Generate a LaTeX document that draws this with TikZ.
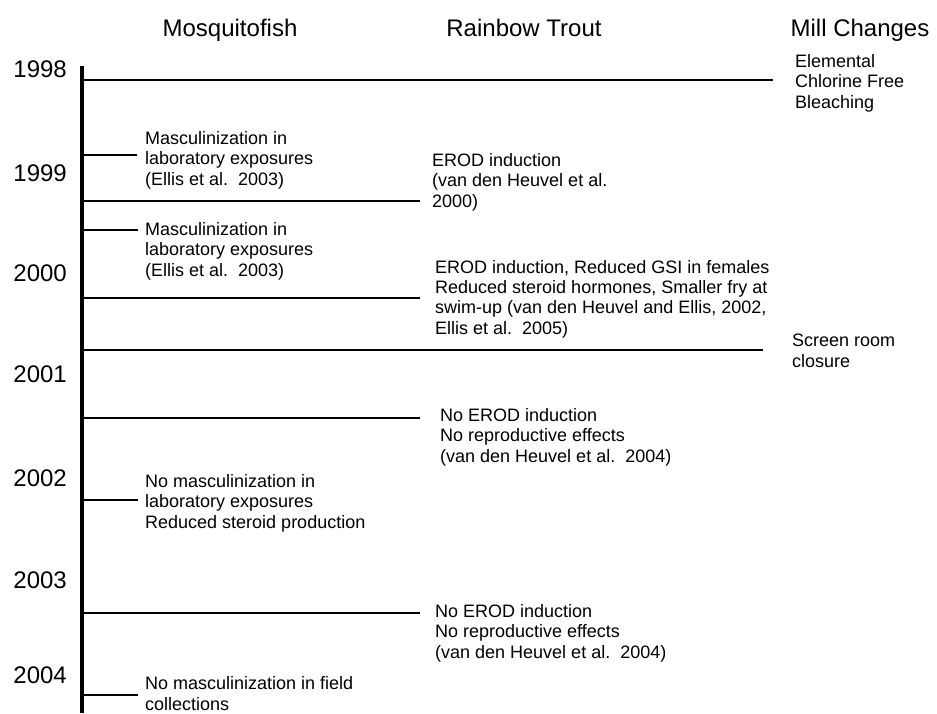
\documentclass[tikz,border=0pt]{standalone}
\usepackage{fontspec}
\setmainfont{Liberation Sans}
\usetikzlibrary{positioning}
\begin{document}
\begin{tikzpicture}[x=1pt,y=-1pt,
  every node/.style={inner sep=0pt},
  note/.style={anchor=base west,align=left,font=\fontsize{18}{20.3}\selectfont},
  head/.style={anchor=base,font=\fontsize{24}{28}\selectfont},
  tick/.style={line width=1.6pt}]
\useasboundingbox (0,0) rectangle (937,713);

\coordinate (top) at (82,66);
\coordinate (bot) at (82,713);
\draw[line width=3.2pt] (top) -- (bot);

\node[head] (hfish) at (230,36) {Mosquitofish};
\node[head] (htrout) at (524,36) {Rainbow Trout};
\node[head] (hmill) at (860,36) {Mill Changes};

\foreach \yr/\y in {1998/77,1999/181,2000/281,2001/382,2002/486,2003/588,2004/683}
  \node[head,anchor=base east] (y\yr) at (67,\y) {\yr};

\coordinate (t1) at (82,80);
\coordinate (t2) at (82,155);
\coordinate (t3) at (82,201);
\coordinate (t4) at (82,230);
\coordinate (t5) at (82,298);
\coordinate (t6) at (82,350);
\coordinate (t7) at (82,418);
\coordinate (t8) at (82,500);
\coordinate (t9) at (82,613);
\coordinate (t10) at (82,695);

\node[note] (ecf) at (795,108) {Elemental\\Chlorine Free\\Bleaching};
\node[note] (fish1) at (145,185) {Masculinization in\\laboratory exposures\\(Ellis et al.\ \ 2003)};
\node[note] (trout1) at (432,207) {EROD induction\\(van den Heuvel et al.\\2000)};
\node[note] (fish2) at (145,276) {Masculinization in\\laboratory exposures\\(Ellis et al.\ \ 2003)};
\node[note] (trout2) at (435,334) {EROD induction, Reduced GSI in females\\Reduced steroid hormones, Smaller fry at\\swim-up (van den Heuvel and Ellis, 2002,\\Ellis et al.\ \ 2005)};
\node[note] (screen) at (792,367) {Screen room\\closure};
\node[note] (trout3) at (440,462) {No EROD induction\\No reproductive effects\\(van den Heuvel et al.\ \ 2004)};
\node[note] (fish3) at (145,528) {No masculinization in\\laboratory exposures\\Reduced steroid production};
\node[note] (trout4) at (435,658) {No EROD induction\\No reproductive effects\\(van den Heuvel et al.\ \ 2004)};
\node[note] (fish4) at (145,710) {No masculinization in field\\collections};

\draw[tick,shorten >=22pt] (t1) -- (t1 -| ecf.west);
\draw[tick,shorten >=8pt] (t2) -- (t2 -| fish1.west);
\draw[tick,shorten >=12pt] (t3) -- (t3 -| trout1.west);
\draw[tick,shorten >=7pt] (t4) -- (t4 -| fish2.west);
\draw[tick,shorten >=15pt] (t5) -- (t5 -| trout2.west);
\draw[tick,shorten >=29pt] (t6) -- (t6 -| screen.west);
\draw[tick,shorten >=20pt] (t7) -- (t7 -| trout3.west);
\draw[tick,shorten >=7pt] (t8) -- (t8 -| fish3.west);
\draw[tick,shorten >=15pt] (t9) -- (t9 -| trout4.west);
\draw[tick,shorten >=7pt] (t10) -- (t10 -| fish4.west);

\end{tikzpicture}
\end{document}
